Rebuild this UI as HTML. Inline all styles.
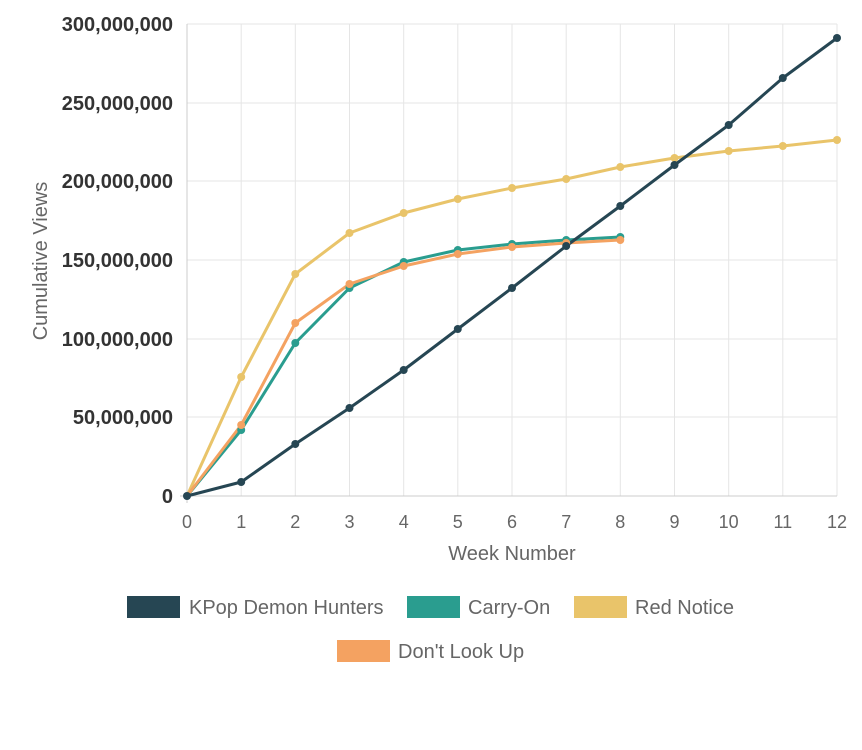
<!DOCTYPE html>
<html><head><meta charset="utf-8"><style>
html,body{margin:0;padding:0;background:#fff;}
svg{display:block;font-family:"Liberation Sans",Arial,sans-serif;}
</style></head><body>
<svg width="862" height="750" viewBox="0 0 862 750" xmlns="http://www.w3.org/2000/svg">
<g stroke="#e5e5e5" stroke-width="1">
<line x1="187" y1="24" x2="837" y2="24"/><line x1="187" y1="103" x2="837" y2="103"/>
<line x1="187" y1="181" x2="837" y2="181"/><line x1="187" y1="260" x2="837" y2="260"/>
<line x1="187" y1="339" x2="837" y2="339"/><line x1="187" y1="417" x2="837" y2="417"/>
<line x1="241.2" y1="24" x2="241.2" y2="496"/><line x1="295.3" y1="24" x2="295.3" y2="496"/>
<line x1="349.5" y1="24" x2="349.5" y2="496"/><line x1="403.7" y1="24" x2="403.7" y2="496"/>
<line x1="457.8" y1="24" x2="457.8" y2="496"/><line x1="512" y1="24" x2="512" y2="496"/>
<line x1="566.2" y1="24" x2="566.2" y2="496"/><line x1="620.3" y1="24" x2="620.3" y2="496"/>
<line x1="674.5" y1="24" x2="674.5" y2="496"/><line x1="728.7" y1="24" x2="728.7" y2="496"/>
<line x1="782.8" y1="24" x2="782.8" y2="496"/><line x1="837" y1="24" x2="837" y2="496"/>
</g>
<g stroke="#ccc"><line x1="187" y1="24" x2="187" y2="503"/><line x1="180" y1="496" x2="837" y2="496"/></g>
<g font-size="20" font-weight="bold" fill="#333" text-anchor="end">
<text x="173" y="31">300,000,000</text><text x="173" y="110">250,000,000</text>
<text x="173" y="188">200,000,000</text><text x="173" y="267">150,000,000</text>
<text x="173" y="346">100,000,000</text><text x="173" y="424">50,000,000</text>
<text x="173" y="503">0</text>
</g>
<g font-size="18" fill="#666" text-anchor="middle">
<text x="187" y="528">0</text><text x="241.2" y="528">1</text><text x="295.3" y="528">2</text>
<text x="349.5" y="528">3</text><text x="403.7" y="528">4</text><text x="457.8" y="528">5</text>
<text x="512" y="528">6</text><text x="566.2" y="528">7</text><text x="620.3" y="528">8</text>
<text x="674.5" y="528">9</text><text x="728.7" y="528">10</text><text x="782.8" y="528">11</text>
<text x="837" y="528">12</text>
</g>
<g font-size="20" fill="#666" text-anchor="middle">
<text x="512" y="560">Week Number</text>
<text transform="translate(47,261) rotate(-90)">Cumulative Views</text>
</g>
<g fill="none" stroke-width="3" stroke-linejoin="round">
<polyline stroke="#e9c46a" points="187,496 241.2,377 295.3,274 349.5,233 403.7,213 457.8,199 512,188 566.2,179 620.3,167 674.5,158 728.7,151 782.8,146 837,140"/>
<polyline stroke="#2a9d8f" points="187,496 241.2,430 295.3,343 349.5,288 403.7,262 457.8,250 512,244 566.2,240 620.3,237"/>
<polyline stroke="#f4a261" points="187,496 241.2,425 295.3,323 349.5,284 403.7,266 457.8,254 512,247 566.2,243 620.3,240"/>
<polyline stroke="#264653" points="187,496 241.2,482 295.3,444 349.5,408 403.7,370 457.8,329 512,288 566.2,246 620.3,206 674.5,165 728.7,125 782.8,78 837,38"/>
</g>
<g fill="#e9c46a"><circle cx="241.2" cy="377" r="4"/><circle cx="295.3" cy="274" r="4"/><circle cx="349.5" cy="233" r="4"/><circle cx="403.7" cy="213" r="4"/><circle cx="457.8" cy="199" r="4"/><circle cx="512" cy="188" r="4"/><circle cx="566.2" cy="179" r="4"/><circle cx="620.3" cy="167" r="4"/><circle cx="674.5" cy="158" r="4"/><circle cx="728.7" cy="151" r="4"/><circle cx="782.8" cy="146" r="4"/><circle cx="837" cy="140" r="4"/></g>
<g fill="#2a9d8f"><circle cx="241.2" cy="430" r="4"/><circle cx="295.3" cy="343" r="4"/><circle cx="349.5" cy="288" r="4"/><circle cx="403.7" cy="262" r="4"/><circle cx="457.8" cy="250" r="4"/><circle cx="512" cy="244" r="4"/><circle cx="566.2" cy="240" r="4"/><circle cx="620.3" cy="237" r="4"/></g>
<g fill="#f4a261"><circle cx="241.2" cy="425" r="4"/><circle cx="295.3" cy="323" r="4"/><circle cx="349.5" cy="284" r="4"/><circle cx="403.7" cy="266" r="4"/><circle cx="457.8" cy="254" r="4"/><circle cx="512" cy="247" r="4"/><circle cx="566.2" cy="243" r="4"/><circle cx="620.3" cy="240" r="4"/></g>
<g fill="#264653"><circle cx="187" cy="496" r="4"/><circle cx="241.2" cy="482" r="4"/><circle cx="295.3" cy="444" r="4"/><circle cx="349.5" cy="408" r="4"/><circle cx="403.7" cy="370" r="4"/><circle cx="457.8" cy="329" r="4"/><circle cx="512" cy="288" r="4"/><circle cx="566.2" cy="246" r="4"/><circle cx="620.3" cy="206" r="4"/><circle cx="674.5" cy="165" r="4"/><circle cx="728.7" cy="125" r="4"/><circle cx="782.8" cy="78" r="4"/><circle cx="837" cy="38" r="4"/></g>
<g font-size="20" fill="#666">
<rect x="127" y="596" width="53" height="22" fill="#264653"/><text x="189" y="614">KPop Demon Hunters</text>
<rect x="407" y="596" width="53" height="22" fill="#2a9d8f"/><text x="468" y="614">Carry-On</text>
<rect x="574" y="596" width="53" height="22" fill="#e9c46a"/><text x="635" y="614">Red Notice</text>
<rect x="337" y="640" width="53" height="22" fill="#f4a261"/><text x="398" y="658">Don't Look Up</text>
</g>
</svg>
</body></html>
